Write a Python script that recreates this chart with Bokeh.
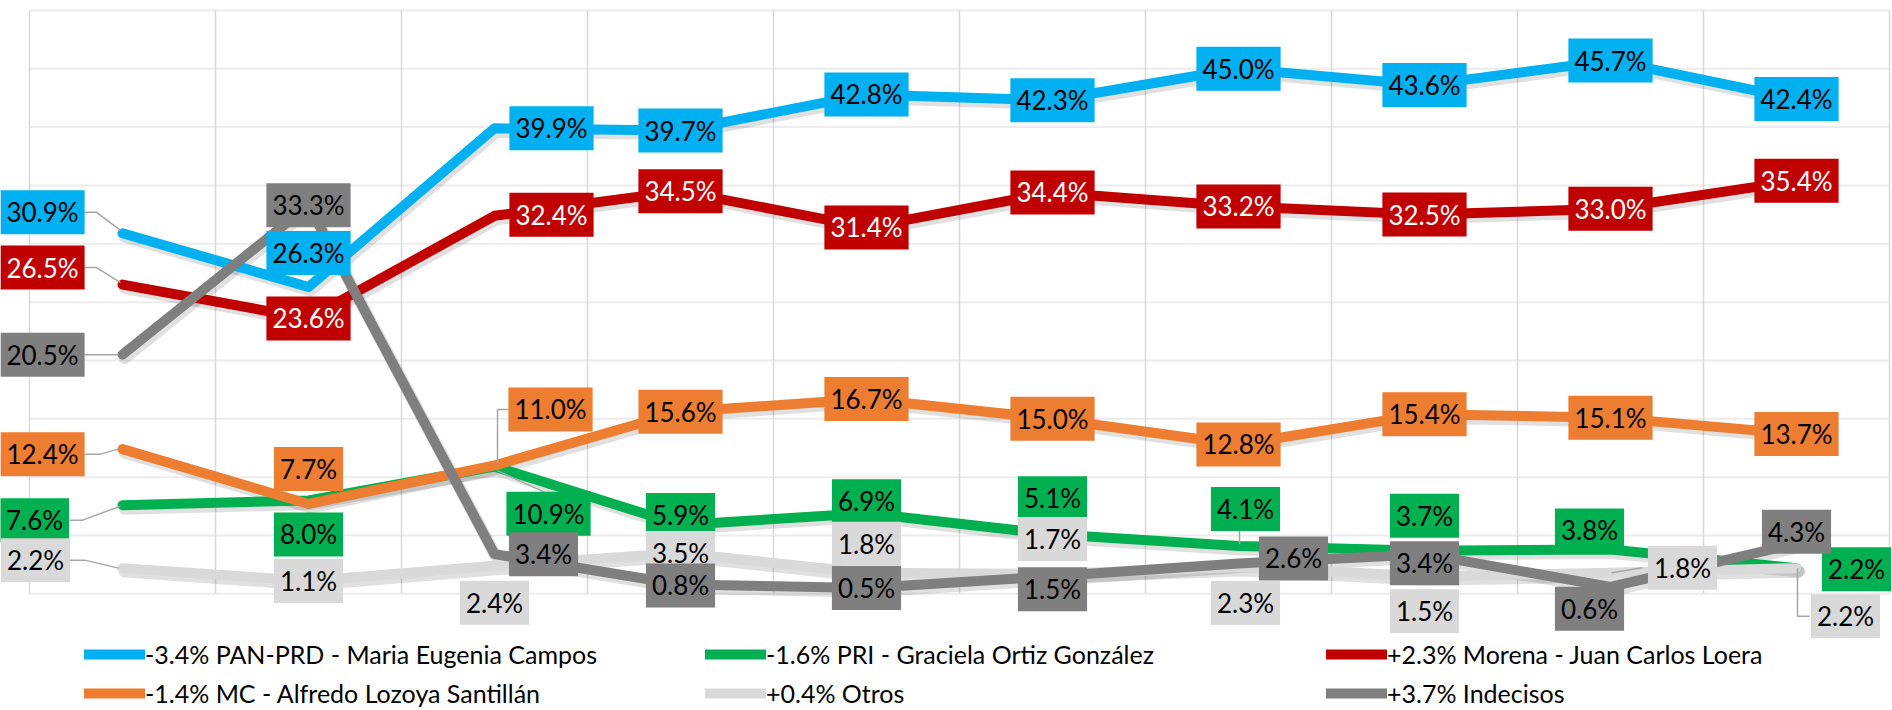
from bokeh.plotting import figure
from bokeh.models import Range1d, ColumnDataSource, Legend, LegendItem
from bokeh.core.properties import value
from bokeh.transform import dodge
from bokeh.embed import file_html
from bokeh.resources import INLINE

# ---------------- data ----------------
polls = [1, 2, 3, 4, 5, 6, 7, 8, 9, 10]
pan = [30.9, 26.3, 39.9, 39.7, 42.8, 42.3, 45.0, 43.6, 45.7, 42.4]
pri = [7.6, 8.0, 10.9, 5.9, 6.9, 5.1, 4.1, 3.7, 3.8, 2.2]
morena = [26.5, 23.6, 32.4, 34.5, 31.4, 34.4, 33.2, 32.5, 33.0, 35.4]
mc = [12.4, 7.7, 11.0, 15.6, 16.7, 15.0, 12.8, 15.4, 15.1, 13.7]
otros = [2.2, 1.1, 2.4, 3.5, 1.8, 1.7, 2.3, 1.5, 1.8, 2.2]
indecisos = [20.5, 33.3, 3.4, 0.8, 0.5, 1.5, 2.6, 3.4, 0.6, 4.3]

legend_labels = [
    "-3.4% PAN-PRD - Maria Eugenia Campos",
    "-1.6% PRI - Graciela Ortiz González",
    "+2.3% Morena - Juan Carlos Loera",
    "-1.4% MC - Alfredo Lozoya Santillán",
    "+0.4% Otros",
    "+3.7% Indecisos",
]
y_ticks = [0, 5, 10, 15, 20, 25, 30, 35, 40, 45, 50]

# ---------------- styles / layout ----------------
colors = ["#00b0f0", "#00b050", "#c00000", "#ed7d31", "#d9d9d9", "#7f7f7f"]
text_colors = ["black", "black", "white", "black", "black", "black"]
series = [pan, pri, morena, mc, otros, indecisos]

# label offsets in screen px (dx right, dy down) relative to each point
offsets = [
    ([-80, 0, 57, 0, 0, 0, 0, 0, 0, 0], [-21, -34, 0, 0, 0, 0, 0, 0, 0, 0]),
    ([-88, 0, 54, 0, 0, 0, 7, 0, -21, 60], [15, 34, 47, -10, -12, -36, -37, -35, -19, 1]),
    ([-80, 0, 57, 0, 0, 0, 0, 0, 0, 0], [-17, 0, -1, 0, 0, 0, 0, 0, 0, 0]),
    ([-80, 0, 56, 0, 0, 0, 0, 0, 0, 0], [5, -35, -56, 0, 0, 0, 0, 0, 0, 0]),
    ([-87, 0, 0, 0, 0, 0, 7, 0, 72, 49], [-8, 0, 37, 0, -29, -35, 36, 35, -5, 48]),
    ([-80, 0, 49, 0, 0, 0, 55, 0, -21, 0], [0, 0, 0, 1, 0, 13, -5, 9, 22, -12]),
]

# leader lines: (series index, point index, path of px offsets)
leaders = [
    (0, 0, [(-2, -3), (-26, -21), (-38, -21)]),
    (2, 0, [(-2, -2), (-26, -17), (-38, -17)]),
    (3, 0, [(-4, 0), (-22, 5), (-38, 5)]),
    (3, 2, [(3, -2), (3, -56), (15, -56)]),
    (1, 0, [(-2, 1), (-40, 15), (-53, 15)]),
    (1, 2, [(3, 4), (53, 27)]),
    (1, 6, [(1, -2), (1, -17)]),
    (4, 0, [(-4, 0), (-38, -8), (-53, -8)]),
    (4, 8, [(1, 0), (32, -5)]),
    (4, 9, [(1, 0), (1, 48), (13, 48)]),
    (5, 0, [(-4, 0), (-38, 0)]),
]

W, H = 1892, 710
PXX = 186.0      # px per category
PXY = 11.667     # px per percentage point
x_start, x_end = 0.5 - 29 / PXX, 0.5 + (W - 29) / PXX
y_end = 593.3 / PXY
y_start = y_end - H / PXY

p = figure(width=W, height=H, x_range=Range1d(x_start, x_end),
           y_range=Range1d(y_start, y_end), output_backend="svg",
           toolbar_location=None, x_axis_location=None, y_axis_location=None,
           min_border=0, outline_line_color=None)
p.xgrid.visible = False
p.ygrid.visible = False
p.background_fill_color = "white"
p.border_fill_color = "white"

# gridlines
x_bounds = [v - 0.5 for v in polls] + [polls[-1] + 0.5]
p.segment(x0=[x_bounds[0]] * len(y_ticks), x1=[x_bounds[-1]] * len(y_ticks),
          y0=y_ticks, y1=y_ticks, line_color="#ececec", line_width=2)
p.segment(x0=x_bounds, x1=x_bounds, y0=[y_ticks[0]] * len(x_bounds),
          y1=[y_ticks[-1]] * len(x_bounds), line_color="#d9d9d9", line_width=1.5)

# shadows
for vals in series:
    src = ColumnDataSource(dict(x=polls, y=vals))
    p.line(x=dodge("x", 0.012), y=dodge("y", -0.3), source=src, line_color="black",
           line_alpha=0.12, line_width=12, line_join="round", line_cap="round")

renderers = []
for vals, col in zip(series, colors):
    r = p.line(polls, vals, line_color=col, line_width=10,
               line_join="round", line_cap="round")
    renderers.append(r)

# leader lines
lx, ly = [], []
for si, pi, path in leaders:
    xv, yv = polls[pi], series[si][pi]
    lx.append([xv + dx / PXX for dx, dy in path])
    ly.append([yv - dy / PXY for dx, dy in path])
p.multi_line(xs=lx, ys=ly, line_color="#a6a6a6", line_width=1.5)

# data labels
for vals, col, tcol, (dxs, dys) in zip(series, colors, text_colors, offsets):
    src = ColumnDataSource(dict(x=polls, y=vals, label=[f"{v:.1f}%" for v in vals],
                                dx=dxs, dy=dys))
    p.text(x="x", y="y", text="label", x_offset="dx", y_offset="dy", source=src,
           text_font=value("Lato"), text_font_size="26px", text_color=tcol,
           text_align="center", text_baseline="middle",
           background_fill_color=col, padding=6)

legend = Legend(items=[LegendItem(label=lab, renderers=[r])
                       for lab, r in zip(legend_labels, renderers)],
                orientation="horizontal", ncols=3, location=(84, 2),
                glyph_width=61, glyph_height=30, label_height=30, label_width=551,
                label_standoff=0, spacing=9, padding=0, margin=0,
                border_line_color=None, background_fill_alpha=0,
                label_text_font="Lato", label_text_font_size="25px",
                label_text_color="black")
p.add_layout(legend)

open("out.html", "w").write(file_html(p, INLINE))
